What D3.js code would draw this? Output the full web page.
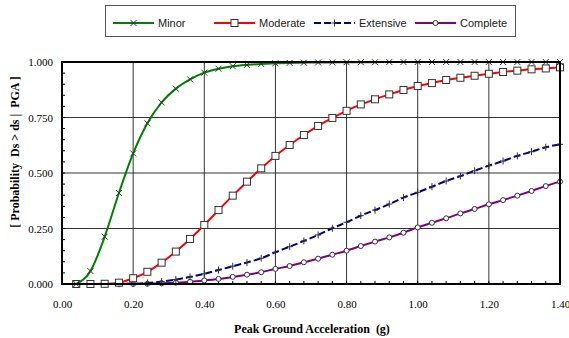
<!DOCTYPE html>
<html>
<head>
<meta charset="utf-8">
<script src="https://cdn.jsdelivr.net/npm/d3@7"></script>
<style>
body { margin: 0; background: #fff; }
svg { display: block; }
</style>
</head>
<body>
<svg id="chart" width="569" height="338"></svg>
<script>
// PGA values (g) where the markers sit
var pga = [0.04,0.08,0.12,0.16,0.20,0.24,0.28,0.32,0.36,0.40,0.44,0.48,0.52,0.56,0.60,0.64,0.68,0.72,
  0.76,0.80,0.84,0.88,0.92,0.96,1.00,1.04,1.08,1.12,1.16,1.20,1.24,1.28,1.32,1.36,1.40];

var minor = [0.000,0.058,0.213,0.410,0.588,0.724,0.818,0.880,0.922,0.952,0.970,0.981,0.987,0.991,0.994,
  0.996,0.997,0.998,0.998,0.999,0.999,0.999,1.000,1.000,1.000,1.000,1.000,1.000,1.000,1.000,1.000,1.000,1.000,1.000,1.000];
var moderate = [0.000,0.000,0.001,0.006,0.026,0.055,0.096,0.146,0.203,0.266,0.333,0.398,0.461,0.521,0.577,
  0.626,0.671,0.712,0.748,0.780,0.809,0.832,0.854,0.874,0.892,0.905,0.919,0.929,0.938,0.947,0.955,0.961,0.967,0.971,0.976];
var extensive = [0.000,0.000,0.000,0.001,0.002,0.005,0.011,0.020,0.032,0.046,0.063,0.080,0.097,0.116,0.143,
  0.168,0.194,0.221,0.251,0.278,0.308,0.333,0.360,0.389,0.413,0.438,0.464,0.486,0.510,0.533,0.554,0.577,0.596,0.616,0.629];
var complete = [0.000,0.000,0.000,0.000,0.000,0.001,0.003,0.006,0.010,0.016,0.023,0.032,0.042,0.053,0.068,
  0.081,0.098,0.114,0.132,0.150,0.171,0.191,0.210,0.231,0.255,0.276,0.296,0.318,0.338,0.359,0.378,0.398,0.419,0.441,0.461];

var xTicks = [0,0.2,0.4,0.6,0.8,1.0,1.2,1.4];
var yTicks = [0,0.25,0.5,0.75,1.0];

var seriesNames = ["Minor","Moderate","Extensive","Complete"];
var seriesColors = ["#008000","#ff0000","#000080","#800080"];
var seriesDash = [null,null,"7,3",null];
var seriesMarkers = ["cross","square","plus","circle"];
var seriesData = [minor, moderate, extensive, complete];

var svg = d3.select("#chart");
var pLeft = 62, pRight = 560, pTop = 62, pBottom = 284;

var x = d3.scaleLinear().domain([0,1.4]).range([pLeft,pRight]);
var y = d3.scaleLinear().domain([0,1]).range([pBottom,pTop]);

// grid
svg.append("g").selectAll("line").data(xTicks.slice(1,-1)).enter().append("line")
  .attr("x1", function(d){ return x(d); }).attr("x2", function(d){ return x(d); })
  .attr("y1", pTop).attr("y2", pBottom)
  .attr("stroke","#333").attr("stroke-width",1);
svg.append("g").selectAll("line").data(yTicks.slice(1,-1)).enter().append("line")
  .attr("y1", function(d){ return y(d); }).attr("y2", function(d){ return y(d); })
  .attr("x1", pLeft).attr("x2", pRight)
  .attr("stroke","#333").attr("stroke-width",1);

// minor ticks inside the frame
var xMinor = d3.range(0, 1.4001, 0.04);
var yMinor = d3.range(0, 1.0001, 0.05);
svg.append("g").selectAll("line").data(xMinor).enter().append("line")
  .attr("x1", function(d){ return x(d); }).attr("x2", function(d){ return x(d); })
  .attr("y1", pBottom).attr("y2", pBottom - 3)
  .attr("stroke","#000");
svg.append("g").selectAll("line").data(yMinor).enter().append("line")
  .attr("y1", function(d){ return y(d); }).attr("y2", function(d){ return y(d); })
  .attr("x1", pLeft).attr("x2", pLeft + 3)
  .attr("stroke","#000");

// axes labels
var xAxis = d3.axisBottom(x).tickValues(xTicks).tickSize(0).tickPadding(16)
  .tickFormat(d3.format(".2f"));
var gx = svg.append("g").attr("transform","translate(0," + pBottom + ")").call(xAxis);
gx.select(".domain").remove();
gx.selectAll("text").attr("font-family","'Liberation Serif', serif").attr("font-size",11).attr("fill","#000");

var yAxis = d3.axisLeft(y).tickValues(yTicks).tickSize(0).tickPadding(9)
  .tickFormat(d3.format(".3f"));
var gy = svg.append("g").attr("transform","translate(" + pLeft + ",0)").call(yAxis);
gy.select(".domain").remove();
gy.selectAll("text").attr("font-family","'Liberation Serif', serif").attr("font-size",11).attr("fill","#000");

svg.append("text")
  .attr("x", 312).attr("y", 333)
  .attr("text-anchor","middle")
  .attr("font-family","'Liberation Serif', serif").attr("font-weight","bold").attr("font-size",12)
  .attr("xml:space","preserve")
  .text("Peak Ground Acceleration  (g)");

svg.append("text")
  .attr("transform","translate(19,152) rotate(-90)")
  .attr("text-anchor","middle")
  .attr("font-family","'Liberation Serif', serif").attr("font-weight","bold").attr("font-size",12)
  .attr("xml:space","preserve")
  .text("[ Probability  Ds > ds |  PGA ]");

// marker drawing
function drawMarker(g, type) {
  if (type == "cross") {
    g.append("path").attr("d","M-3,-3L3,3M-3,3L3,-3").attr("stroke","#333").attr("stroke-width",1).attr("fill","none");
  } else if (type == "square") {
    g.append("rect").attr("x",-3.5).attr("y",-3.5).attr("width",7).attr("height",7)
      .attr("fill","#fff").attr("stroke","#333").attr("stroke-width",1);
  } else if (type == "plus") {
    g.append("path").attr("d","M-3,0L3,0M0,-3.5L0,3.5").attr("stroke","#333").attr("stroke-width",1).attr("fill","none");
  } else {
    g.append("circle").attr("r",2.5).attr("fill","#fff").attr("stroke","#333").attr("stroke-width",1);
  }
}

var line = d3.line().curve(d3.curveMonotoneX)
  .x(function(d){ return x(d[0]); })
  .y(function(d){ return y(d[1]); });

// draw from last to first so Minor sits on top
for (var i = seriesData.length - 1; i >= 0; i--) {
  var pts = pga.map(function(p, j){ return [p, seriesData[i][j]]; });
  svg.append("path").datum(pts)
    .attr("d", line)
    .attr("fill","none")
    .attr("stroke", seriesColors[i])
    .attr("stroke-width", 2)
    .attr("stroke-dasharray", seriesDash[i]);
  var type = seriesMarkers[i];
  svg.append("g").selectAll("g").data(pts).enter().append("g")
    .attr("transform", function(d){ return "translate(" + x(d[0]) + "," + y(d[1]) + ")"; })
    .each(function(){ drawMarker(d3.select(this), type); });
}

// frame
svg.append("rect").attr("x", pLeft).attr("y", pTop)
  .attr("width", pRight - pLeft).attr("height", pBottom - pTop)
  .attr("fill","none").attr("stroke","#000").attr("stroke-width",2);

// legend
svg.append("rect").attr("x",105.5).attr("y",5.5).attr("width",410).attr("height",31)
  .attr("fill","#fff").attr("stroke","#555").attr("stroke-width",1);
var legX = [113, 214, 314, 415];
for (var k = 0; k < seriesNames.length; k++) {
  var lg = svg.append("g").attr("transform","translate(" + legX[k] + ",23)");
  lg.append("line").attr("x1",0).attr("x2",41).attr("y1",0).attr("y2",0)
    .attr("stroke", seriesColors[k]).attr("stroke-width",2)
    .attr("stroke-dasharray", seriesDash[k]);
  drawMarker(lg.append("g").attr("transform","translate(20.5,0)"), seriesMarkers[k]);
  lg.append("text").attr("x",45).attr("y",4)
    .attr("font-family","'Liberation Sans', Arial, sans-serif").attr("font-size",11)
    .attr("fill","#222")
    .text(seriesNames[k]);
}
</script>
</body>
</html>
